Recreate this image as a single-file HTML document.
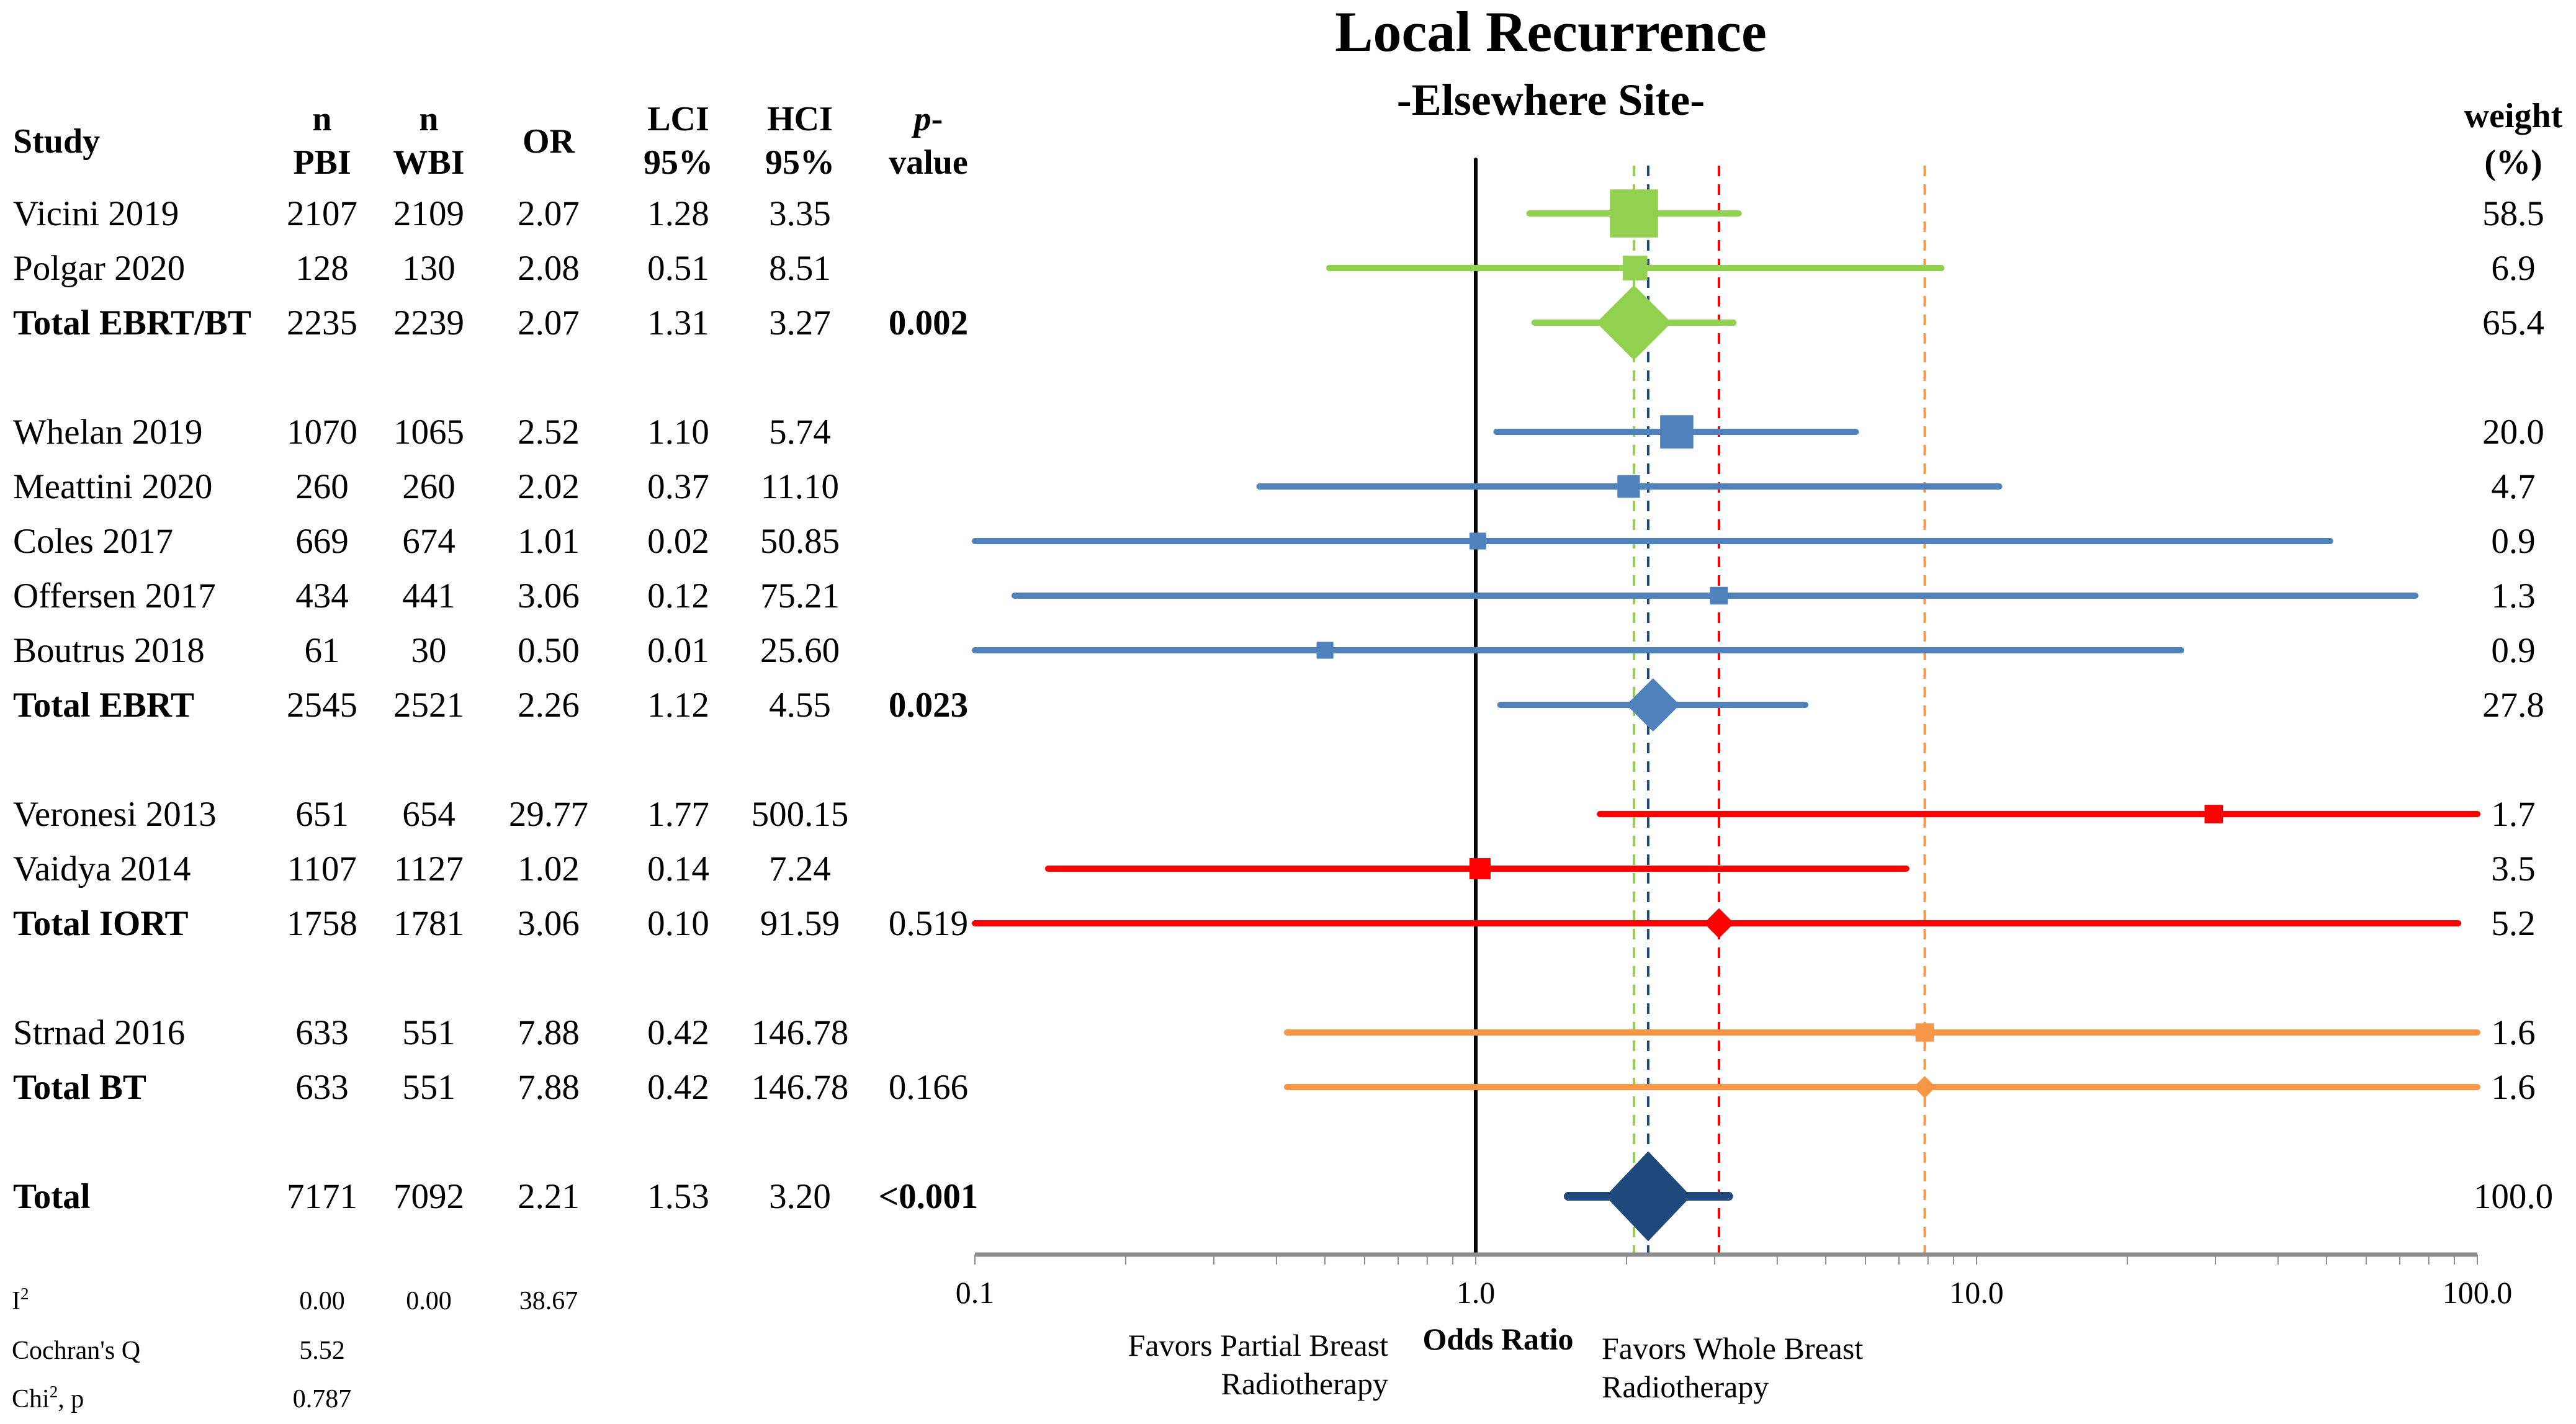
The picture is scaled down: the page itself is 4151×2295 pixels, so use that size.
<!DOCTYPE html>
<html><head><meta charset="utf-8"><style>
html,body{margin:0;padding:0;background:#fff}
svg{display:block}
text{font-family:"Liberation Serif",serif;fill:#000}
</style></head><body>
<svg id="chart" width="4151" height="2295" viewBox="0 0 4151 2295" xmlns="http://www.w3.org/2000/svg">
<text x="2499" y="82" font-size="92" font-weight="bold" text-anchor="middle">Local Recurrence</text>
<text x="2499" y="185" font-size="72" font-weight="bold" text-anchor="middle">-Elsewhere Site-</text>
<g font-size="56" font-weight="bold" text-anchor="middle">
<text x="21" y="246" text-anchor="start">Study</text>
<text x="519" y="210">n</text>
<text x="519" y="280">PBI</text>
<text x="691" y="210">n</text>
<text x="691" y="280">WBI</text>
<text x="884" y="246">OR</text>
<text x="1093" y="210">LCI</text>
<text x="1093" y="280">95%</text>
<text x="1289" y="210">HCI</text>
<text x="1289" y="280">95%</text>
<text x="1496" y="210"><tspan font-style="italic">p</tspan>-</text>
<text x="1496" y="280">value</text>
<text x="4050" y="205">weight</text>
<text x="4050" y="280">(%)</text>
</g>
<g id="table" font-size="57"></g>
<g id="plot"></g>
<g font-size="42">
<text x="19" y="2110">I<tspan font-size="27" dy="-16">2</tspan></text>
<text x="519" y="2110" text-anchor="middle">0.00</text>
<text x="691" y="2110" text-anchor="middle">0.00</text>
<text x="884" y="2110" text-anchor="middle">38.67</text>
<text x="19" y="2190">Cochran's Q</text>
<text x="519" y="2190" text-anchor="middle">5.52</text>
<text x="19" y="2268">Chi<tspan font-size="27" dy="-16">2</tspan><tspan dy="16">, p</tspan></text>
<text x="519" y="2268" text-anchor="middle">0.787</text>
</g>
<g font-size="50">
<text x="2237" y="2185" text-anchor="end">Favors Partial Breast</text>
<text x="2237" y="2247" text-anchor="end">Radiotherapy</text>
<text x="2414" y="2175" text-anchor="middle" font-weight="bold">Odds Ratio</text>
<text x="2581" y="2190">Favors Whole Breast</text>
<text x="2581" y="2252">Radiotherapy</text>
</g>
</svg>
<script>
const studies = ["Vicini 2019","Polgar 2020","Total EBRT/BT","Whelan 2019","Meattini 2020","Coles 2017","Offersen 2017","Boutrus 2018","Total EBRT","Veronesi 2013","Vaidya 2014","Total IORT","Strnad 2016","Total BT","Total"];
const rowSlots = [0,1,2,4,5,6,7,8,9,11,12,13,15,16,18];
const nPBI = [2107,128,2235,1070,260,669,434,61,2545,651,1107,1758,633,633,7171];
const nWBI = [2109,130,2239,1065,260,674,441,30,2521,654,1127,1781,551,551,7092];
const orVals = [2.07,2.08,2.07,2.52,2.02,1.01,3.06,0.50,2.26,29.77,1.02,3.06,7.88,7.88,2.21];
const lciVals = [1.28,0.51,1.31,1.10,0.37,0.02,0.12,0.01,1.12,1.77,0.14,0.10,0.42,0.42,1.53];
const hciVals = [3.35,8.51,3.27,5.74,11.10,50.85,75.21,25.60,4.55,500.15,7.24,91.59,146.78,146.78,3.20];
const pVals = ["","","0.002","","","","","","0.023","","","0.519","","0.166","<0.001"];
const weights = [58.5,6.9,65.4,20.0,4.7,0.9,1.3,0.9,27.8,1.7,3.5,5.2,1.6,1.6,100.0];
const isTotal = [0,0,1,0,0,0,0,0,1,0,0,1,0,1,1];
const groups = [0,0,0,1,1,1,1,1,1,2,2,2,3,3,4];
const groupColors = ["#92D050","#4F81BD","#FF0000","#F79646","#1F497D"];
const pooledOR = [2.07,2.26,3.06,7.88,2.21];
const xTicks = [0.1,1,10,100];
const xTickLabels = ["0.1","1.0","10.0","100.0"];

const NS="http://www.w3.org/2000/svg";
const X0=2378, DEC=807, AX_Y=2022, TOP=257;
const xScale = v => X0 + DEC*Math.log10(Math.min(100,Math.max(0.1,v)));
const yScale = slot => 344 + 88*slot;
function mk(tag, attrs, parent){const e=document.createElementNS(NS,tag);for(const k in attrs)e.setAttribute(k,attrs[k]);parent.appendChild(e);return e;}
const table=document.getElementById('table'), plot=document.getElementById('plot');

studies.forEach((s,i)=>{
  const y=yScale(rowSlots[i])+19;
  const fw=isTotal[i]?'bold':'normal';
  const cells=[[s,21,'start',fw],[nPBI[i],519,'middle','normal'],[nWBI[i],691,'middle','normal'],[orVals[i].toFixed(2),884,'middle','normal'],[lciVals[i].toFixed(2),1093,'middle','normal'],[hciVals[i].toFixed(2),1289,'middle','normal'],[pVals[i],1496,'middle',(i===2||i===8||i===14)?'bold':'normal'],[weights[i].toFixed(1),4050,'middle','normal']];
  cells.forEach((c,j)=>{
    const t=mk('text',{x:c[1],y:y,'text-anchor':c[2],'font-weight':c[3]},table);
    
    
    t.textContent=c[0];
  });
});

const ref=mk('line',{x1:xScale(1),x2:xScale(1),y1:TOP,y2:AX_Y,stroke:'#000','stroke-width':6,'stroke-linecap':'round'},plot);



[0,4,2,3].forEach(g=>{
  const l=mk('line',{x1:xScale(pooledOR[g]),x2:xScale(pooledOR[g]),y1:267,y2:AX_Y,stroke:groupColors[g],'stroke-width':4,'stroke-dasharray':'17 13'},plot);
  
  
});

const ax=mk('line',{x1:xScale(0.1),x2:xScale(100),y1:AX_Y,y2:AX_Y,stroke:'#8c8c8c','stroke-width':7},plot);


for(let d=0.1; d<100; d*=10){
  for(let m=1;m<=10;m++){
    const v=d*m, x=xScale(v);
    const tk=mk('line',{x1:x,x2:x,y1:AX_Y,y2:AX_Y+16,stroke:'#8c8c8c','stroke-width':2},plot);
    
    
  }
}
xTicks.forEach((v,i)=>{
  const t=mk('text',{x:xScale(v),y:2100,'text-anchor':'middle','font-size':50},plot);
  
  
  t.textContent=xTickLabels[i];
});

studies.forEach((s,i)=>{
  const y=yScale(rowSlots[i]), col=groupColors[groups[i]];
  const lw = i===14?14:10;
  const ci=mk('line',{x1:xScale(lciVals[i]),x2:xScale(hciVals[i]),y1:y,y2:y,stroke:col,'stroke-width':lw,'stroke-linecap':'round'},plot);
  
  
  const x=xScale(orVals[i]);
  if(isTotal[i]){
    const h=20+12.5*Math.sqrt(weights[i]);
    const w=i===14?h*0.95:h;
    const d=mk('polygon',{points:`${x},${y-h/2} ${x+w/2},${y} ${x},${y+h/2} ${x-w/2},${y}`,fill:col},plot);
    
    
  } else {
    const sz=20+7.5*Math.sqrt(weights[i]);
    const r=mk('rect',{x:x-sz/2,y:y-sz/2,width:sz,height:sz,fill:col},plot);
    
    
  }
});
</script>
</body></html>
